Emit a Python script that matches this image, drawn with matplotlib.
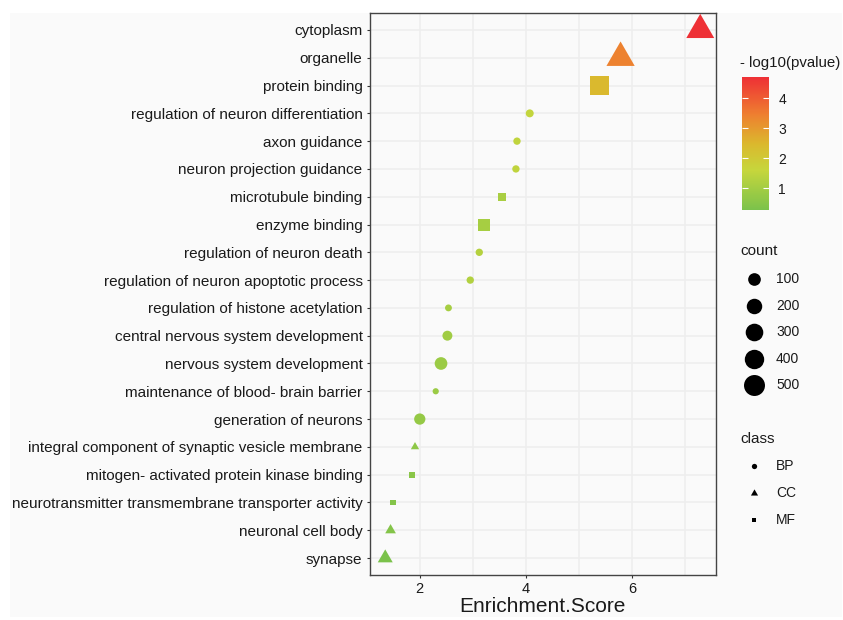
import numpy as np
import matplotlib
matplotlib.use('Agg')
import matplotlib.pyplot as plt
from matplotlib.colors import LinearSegmentedColormap, Normalize
from matplotlib.cm import ScalarMappable
from matplotlib.path import Path
from matplotlib.patches import Rectangle

plt.rcParams['font.family'] = ['Liberation Sans', 'DejaVu Sans']

# data, top row first
terms = ['cytoplasm', 'organelle', 'protein binding',
         'regulation of neuron differentiation', 'axon guidance',
         'neuron projection guidance', 'microtubule binding', 'enzyme binding',
         'regulation of neuron death', 'regulation of neuron apoptotic process',
         'regulation of histone acetylation', 'central nervous system development',
         'nervous system development', 'maintenance of blood- brain barrier',
         'generation of neurons', 'integral component of synaptic vesicle membrane',
         'mitogen- activated protein kinase binding',
         'neurotransmitter transmembrane transporter activity',
         'neuronal cell body', 'synapse']
enrichment = [7.28, 5.78, 5.39, 4.07, 3.83, 3.81, 3.55, 3.20, 3.12, 2.95,
              2.54, 2.52, 2.40, 2.30, 2.00, 1.91, 1.85, 1.50, 1.45, 1.35]
counts = [485, 500, 520, 12, 8, 8, 23, 126, 8, 8,
          6, 37, 100, 5, 63, 5, 6, 5, 12, 60]
neglogp = [4.69, 3.40, 2.45, 1.55, 1.50, 1.50, 1.10, 1.05, 1.30, 1.25,
           1.05, 0.95, 0.85, 0.85, 0.75, 0.60, 0.55, 0.45, 0.45, 0.28]
go_class = ['CC', 'CC', 'MF', 'BP', 'BP', 'BP', 'MF', 'MF', 'BP', 'BP',
            'BP', 'BP', 'BP', 'BP', 'BP', 'CC', 'MF', 'MF', 'CC', 'CC']

count_breaks = [100, 200, 300, 400, 500]
p_ticks = [1, 2, 3, 4]
class_levels = ['BP', 'CC', 'MF']

W, H = 843, 620
PX2PT = 0.72  # dpi 100

h = np.sqrt(3) / 2
tri = Path([(0, 2 * h / 3), (-0.5, -h / 3), (0.5, -h / 3), (0, 2 * h / 3)],
           [Path.MOVETO, Path.LINETO, Path.LINETO, Path.CLOSEPOLY])
markers = {'BP': 'o', 'CC': tri, 'MF': 's'}
shape_fac = {'BP': 1.0, 'CC': 1.555, 'MF': 0.886}


def diam_px(c):
    c = np.asarray(c, dtype=float)
    return 6.2 + 0.664 * np.sqrt(np.maximum(c - 5, 0))


cmap = LinearSegmentedColormap.from_list('p', [
    (0.0, '#7BC24B'), (0.30, '#C6D63C'), (0.50, '#DBB82D'),
    (0.72, '#EE7F30'), (1.0, '#EE3035')])
norm = Normalize(vmin=0.28, vmax=4.69)

fig = plt.figure(figsize=(W / 100, H / 100), dpi=100, facecolor='white')

# background + legend layer in pixel coords
bg = fig.add_axes([0, 0, 1, 1], zorder=-1)
bg.set_xlim(0, W)
bg.set_ylim(H, 0)
bg.axis('off')
bg.add_patch(Rectangle((10, 13), 832, 604, color='#fafafa', lw=0))

# main panel
left, right, top, bottom = 369.5, 716, 13.3, 574.7
ax = fig.add_axes([left / W, (H - bottom) / H, (right - left) / W, (bottom - top) / H])
ax.set_facecolor('#fafafa')

n = len(terms)
ypos = np.arange(n)[::-1]
enrichment = np.array(enrichment)
for cl in class_levels:
    idx = [i for i in range(n) if go_class[i] == cl]
    s = (diam_px(np.array(counts)[idx]) * shape_fac[cl] * PX2PT) ** 2
    ax.scatter(enrichment[idx], ypos[idx], s=s, marker=markers[cl],
               c=np.array(neglogp)[idx], cmap=cmap, norm=norm,
               linewidths=0, zorder=3)

ax.set_xlim(1.35 - 0.05 * (7.28 - 1.35), 7.28 + 0.05 * (7.28 - 1.35))
ax.set_ylim(-0.6, n - 0.4)
ax.set_yticks(range(n))
ax.set_yticklabels(terms[::-1])
ax.set_xticks([2, 4, 6])
ax.set_xticks([3, 5, 7], minor=True)
ax.grid(True, which='both', color='#eeeeee', lw=1.1, zorder=0)
ax.set_axisbelow(True)
for sp in ax.spines.values():
    sp.set_color('#444444')
    sp.set_linewidth(1.0)
ax.tick_params(which='major', length=2.5, width=0.8, color='#333333',
               labelcolor='#1a1a1a', pad=2.5)
ax.tick_params(axis='y', labelsize=11)
ax.tick_params(axis='x', labelsize=10.5)
ax.tick_params(which='minor', length=0)
ax.set_xlabel('Enrichment.Score', fontsize=15, color='#1a1a1a', labelpad=1)

# colour legend
bg.text(740, 63, '- log10(pvalue)', fontsize=10.8, va='center', ha='left', color='#1a1a1a')
cax = fig.add_axes([741.5 / W, (H - 210) / H, 27 / W, 132.7 / H])
cb = fig.colorbar(ScalarMappable(norm=norm, cmap=cmap), cax=cax)
cb.outline.set_visible(False)
cb.set_ticks(p_ticks)
cax.tick_params(axis='y', which='major', direction='in', color='white', length=4,
                width=0.8, left=True, right=True, labelsize=10, pad=7,
                labelcolor='#1a1a1a')
cax.tick_params(which='minor', length=0)

# size legend
bg.text(740, 251, 'count', fontsize=11, va='center', ha='left', color='#1a1a1a')
for k, c in enumerate(count_breaks):
    yy = 279 + k * 26.6
    bg.scatter([754], [yy], s=(diam_px(c) * PX2PT) ** 2, marker='o', color='black', lw=0)
    bg.text(776, yy, str(c), fontsize=10, va='center', ha='left', color='#1a1a1a')

# shape legend
bg.text(740, 439, 'class', fontsize=11, va='center', ha='left', color='#1a1a1a')
for k, cl in enumerate(class_levels):
    yy = 466 + k * 27
    bg.scatter([754], [yy], s=(5.3 * shape_fac[cl] * PX2PT) ** 2, marker=markers[cl],
               color='black', lw=0)
    bg.text(776, yy, cl, fontsize=10, va='center', ha='left', color='#1a1a1a')

fig.savefig('out.png', dpi=100, facecolor='white')
